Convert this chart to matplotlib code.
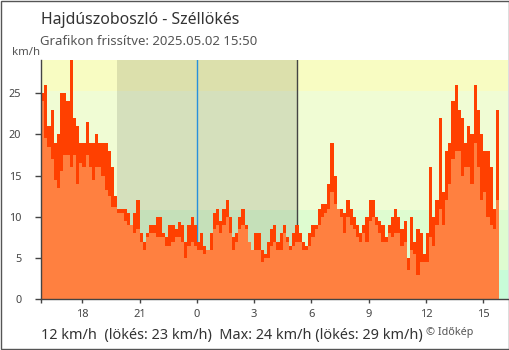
import numpy as np
import matplotlib
matplotlib.use('Agg')
import matplotlib.pyplot as plt
from matplotlib.patches import Rectangle

plt.rcParams['font.family'] = ['Noto Sans', 'DejaVu Sans']

#############################
## adatok: 10 perces értékek, 2025.05.01 15:50 -> 2025.05.02 15:50
start_hour = -49 / 6      # órák 05.02 00:00-tól
step_hour = 1 / 6

gust = [25, 26, 21, 23, 19, 20, 25, 25, 24, 29,
        22, 21, 19, 19, 21.5, 19, 19, 20, 19, 19,
        19, 18, 16, 12.5, 11, 11, 11, 10.5, 9, 10.5,
        12, 8, 7, 8, 9, 9, 10, 10, 8, 7.5,
        9, 9, 8.5, 9.4, 9, 7, 9, 10, 9,
        7, 8, 6.5, 6, 8, 10.5, 11, 9.5, 11, 12,
        10, 7.5, 8, 10, 11, 9, 7, 6, 8, 8,
        6, 5.5, 7, 8.5, 9,
        7, 8, 9, 7.5, 6.5, 8, 9, 8, 7, 6.5,
        8, 9, 9, 11, 11.5, 11.5, 14, 19, 15, 11,
        11, 10.5, 12, 11, 10, 9, 8, 9, 10, 12,
        12, 10, 9.5, 9, 7.5, 9,
        10, 11, 10, 8.5, 9.5, 5, 10, 7, 8.5, 8,
        5.5, 8, 16, 10, 12, 22, 13, 18, 19, 24,
        26, 23, 22, 19, 21, 20, 26, 23, 20, 18,
        18, 16, 11, 23]

mean = [24, 19.5, 18.5, 17, 14.5, 13.5, 15.5, 17.5, 17.5, 16,
        17.5, 14, 16.5, 16, 17.5, 16, 14.5, 16, 16, 15,
        13.2, 12.5, 11.2, 11.2, 10.4, 10.4, 9.5, 9, 9, 8,
        8.5, 7, 6, 7.5, 8, 8, 7.5, 7.5, 7.5, 6.5,
        6.5, 7, 7.5, 7.5, 7, 5, 6.5, 7, 6.5,
        6, 6, 5.5, 6, 6, 8.5, 9, 8, 9, 10,
        8, 6, 7, 8.5, 9, 8.5, 7, 6, 6, 6,
        4.5, 5, 5, 6.5, 7,
        6, 6, 8, 7, 6, 6.5, 7, 7, 6, 6,
        6.5, 7.5, 8.5, 9, 10, 10.5, 11, 13, 11.5, 11,
        10, 8, 10, 9, 8.5, 7.5, 7, 8, 7, 9.5,
        10, 9, 8, 7, 7, 8,
        7.5, 8, 8, 6.5, 7, 3.5, 6, 5.5, 3, 4.5,
        4.5, 4.5, 7.5, 6.5, 9, 11, 9, 12, 14, 17,
        18, 18, 15, 16, 16, 14, 19, 16, 12, 13,
        10, 9, 8.5, 12]

tick_hours = [-6, -3, 0, 3, 6, 9, 12, 15]
tick_labels = ['18', '21', '0', '3', '6', '9', '12', '15']
y_ticks = [0, 5, 10, 15, 20, 25]

band_edges = [0, 3.6, 10.8, 25.2, 29]
band_colors = ['#c8fcd8', '#defcd0', '#f0fcd4', '#f8fcc2']

sunset = -4.2     # 19:48
sunrise = 5.22    # 5:13
x_end = 16.3

#############################

edges = start_hour + step_hour * np.arange(len(gust) + 1)

fig = plt.figure(figsize=(5.1, 3.5), dpi=100)
ax = fig.add_axes([41 / 510, 50.7 / 350, 467 / 510, 239.3 / 350])

## háttér sávok
for lo, hi, c in zip(band_edges[:-1], band_edges[1:], band_colors):
    ax.axhspan(lo, hi, color=c, lw=0, zorder=0)
# éjszaka
ax.axvspan(sunset, sunrise, color='black', alpha=0.11, lw=0, zorder=1)
ax.axvline(0, color='#2890dc', lw=1, zorder=2)
ax.axvline(sunrise, color='#444444', lw=1, zorder=2)

## oszlopok
ax.stairs(gust, edges, fill=True, baseline=0, color='#ff4000', lw=0, zorder=3)
ax.stairs(mean, edges, fill=True, baseline=0, color='#ff8040', lw=0, zorder=4)

ax.set_xlim(start_hour, x_end)
ax.set_ylim(0, 29)

for s in ['top', 'right']:
    ax.spines[s].set_visible(False)
for s in ['left', 'bottom']:
    ax.spines[s].set_color('#444444')
    ax.spines[s].set_linewidth(1)
    ax.spines[s].set_zorder(5)

ax.set_yticks(y_ticks)
ax.tick_params(axis='y', length=4.3, width=1, color='#444444', labelsize=7.8,
               labelcolor='#444444', pad=10)
ax.set_xticks([start_hour] + tick_hours)
ax.set_xticklabels([''] + tick_labels)
ax.tick_params(axis='x', length=3, width=1, color='#444444', labelsize=8,
               labelcolor='#444444', pad=4)
ax.get_xticklines()[2 * (tick_hours.index(0) + 1)].set_color('#2890dc')

## szövegek
fig.text(40.7 / 510, 1 - 24 / 350, 'Hajdúszoboszló - Széllökés', fontsize=11.4,
         color='#333333', va='baseline')
fig.text(40.3 / 510, 1 - 45 / 350, 'Grafikon frissítve: 2025.05.02 15:50', fontsize=9.5,
         color='#555555', va='baseline')
fig.text(12.5 / 510, 1 - 55 / 350, 'km/h', fontsize=8.2, color='#555555', va='baseline')

summary = (f'{mean[-1]:.0f} km/h  (lökés: {gust[-1]:.0f} km/h)  '
           f'Max: {max(mean):.0f} km/h (lökés: {max(gust):.0f} km/h)')
fig.text(40.7 / 510, 1 - 339 / 350, summary, fontsize=10.4, color='#333333', va='baseline')
fig.text(426 / 510, 1 - 335 / 350, '© Időkép', fontsize=7.8, color='#555555', va='baseline')

# keret
fig.patches.append(Rectangle((0.001, 0.0015), 0.997, 0.996, transform=fig.transFigure,
                             fill=False, edgecolor='#555555', lw=1))

fig.savefig('out.png', dpi=100)
